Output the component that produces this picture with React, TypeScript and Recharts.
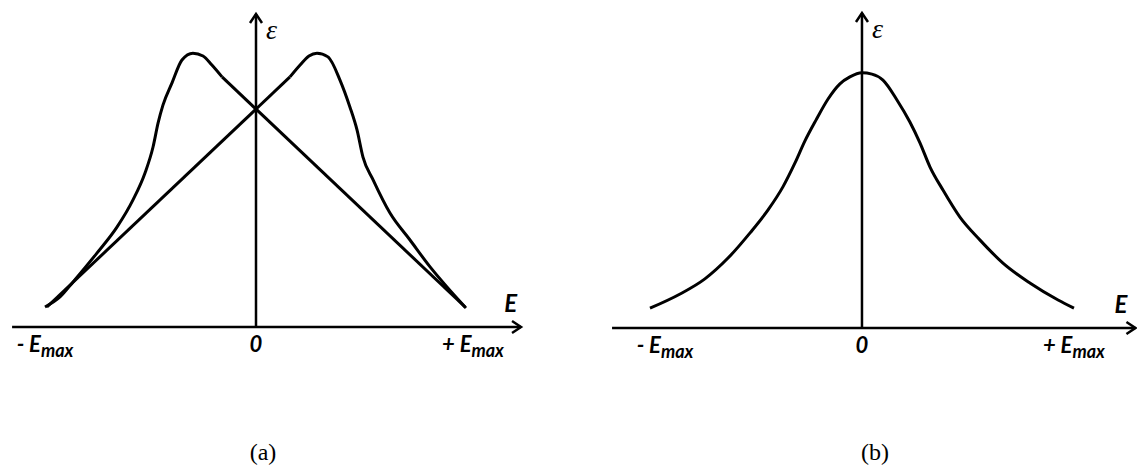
import React from 'react';
import { LineChart, Line, XAxis, YAxis, ReferenceLine } from 'recharts';

// ---- tick labels ----
const tickValues = [-1, 0, 1];
const tickMain = ['- E', '0', '+ E'];
const tickSub = ['max', '', 'max'];

// ---- panel (a): two curves, each = hump + straight line ----
const leftHumpE = [-1.0, -0.929, -0.867, -0.754, -0.659, -0.583, -0.526, -0.488, -0.464, -0.441, -0.398, -0.351, -0.299, -0.251, -0.209, -0.161];
const leftHumpEps = [0.064, 0.096, 0.144, 0.236, 0.319, 0.406, 0.492, 0.575, 0.652, 0.709, 0.78, 0.853, 0.875, 0.866, 0.837, 0.799];
const lineDownE = [-0.161, 0.991];
const lineDownEps = [0.799, 0.064];
const lineUpE = [-0.991, 0.161];
const lineUpEps = [0.064, 0.799];
const rightHumpE = [0.161, 0.209, 0.251, 0.289, 0.341, 0.398, 0.445, 0.479, 0.507, 0.555, 0.635, 0.73, 0.825, 0.905, 0.995];
const rightHumpEps = [0.799, 0.837, 0.866, 0.875, 0.863, 0.789, 0.703, 0.629, 0.543, 0.47, 0.364, 0.278, 0.192, 0.128, 0.061];

// ---- panel (b): single bell curve ----
const bellE = [-1.0, -0.858, -0.741, -0.632, -0.528, -0.443, -0.373, -0.316, -0.269, -0.217, -0.16, -0.104, -0.057, 0, 0.047, 0.099, 0.165, 0.226, 0.274, 0.321, 0.382, 0.462, 0.557, 0.665, 0.792, 0.925, 1.0];
const bellEps = [0.063, 0.108, 0.156, 0.222, 0.302, 0.375, 0.448, 0.524, 0.594, 0.66, 0.727, 0.775, 0.797, 0.81, 0.806, 0.787, 0.724, 0.654, 0.587, 0.511, 0.438, 0.352, 0.279, 0.206, 0.143, 0.089, 0.063];

// axis extents (data units)
const axisA = { xFrom: -1.156, xTo: 1.256 };
const axisB = { xFrom: -1.179, xTo: 1.29 };

const toPoints = (xs: number[], ys: number[]) => xs.map((x, i) => ({ x, y: ys[i] }));

const LABEL_FONT = 'Lato, "Open Sans", sans-serif';

const makeTick = (dx: number[]) => (props: any) => {
  const { x, y, payload } = props;
  const i = tickValues.indexOf(payload.value);
  if (i < 0) return null;
  return (
    <text
      x={x + dx[i]}
      y={y + 25}
      textAnchor="middle"
      fontFamily={LABEL_FONT}
      fontWeight="bold"
      fontStyle="italic"
      fontSize={22}
      fill="#000"
    >
      <tspan>{tickMain[i]}</tspan>
      {tickSub[i] ? (
        <tspan dy={5} fontSize={18}>
          {tickSub[i]}
        </tspan>
      ) : null}
    </text>
  );
};

const makeHArrow = (labelDx: number) => (props: any) => {
  const { x1, y1, x2, y2 } = props;
  return (
    <g>
      <line x1={x1} y1={y1} x2={x2} y2={y2} stroke="#000" strokeWidth={2.5} />
      <polyline
        points={`${x2 - 9},${y2 - 6} ${x2},${y2} ${x2 - 9},${y2 + 6}`}
        fill="none"
        stroke="#000"
        strokeWidth={2.5}
      />
      <text
        x={x2 - labelDx}
        y={y2 - 15}
        textAnchor="end"
        fontFamily={LABEL_FONT}
        fontWeight="bold"
        fontStyle="italic"
        fontSize={24}
        fill="#000"
      >
        E
      </text>
    </g>
  );
};

const VArrow = (props: any) => {
  const { x1, y1, x2, y2 } = props;
  const topY = Math.min(y1, y2);
  const botY = Math.max(y1, y2);
  return (
    <g>
      <line x1={x1} y1={botY} x2={x2} y2={topY} stroke="#000" strokeWidth={2.5} />
      <polyline
        points={`${x1 - 6},${topY + 9} ${x1},${topY} ${x1 + 6},${topY + 9}`}
        fill="none"
        stroke="#000"
        strokeWidth={2.5}
      />
      <text
        x={x1 + 10}
        y={topY + 25}
        fontFamily='"Liberation Serif", serif'
        fontStyle="italic"
        fontSize={28}
        fill="#000"
      >
        ε
      </text>
    </g>
  );
};

const curveStyle = { stroke: '#000', strokeWidth: 3 };

const PanelA = () => (
  <LineChart
    width={560}
    height={465}
    margin={{ top: 14, right: 29.7, bottom: 98, left: 2.8 }}
  >
    <XAxis
      dataKey="x"
      type="number"
      domain={[-1.2, 1.3]}
      ticks={tickValues}
      tick={makeTick([0, 0, 6])}
      axisLine={false}
      tickLine={false}
      tickSize={0}
      tickMargin={0}
      height={40}
      interval={0}
      allowDataOverflow
    />
    <YAxis type="number" domain={[0, 1]} hide allowDataOverflow />
    <ReferenceLine
      segment={[{ x: axisA.xFrom, y: 0 }, { x: axisA.xTo, y: 0 }]}
      ifOverflow="visible"
      shape={makeHArrow(4)}
    />
    <ReferenceLine
      segment={[{ x: 0, y: 0 }, { x: 0, y: 1 }]}
      ifOverflow="visible"
      shape={VArrow}
    />
    <Line data={toPoints(leftHumpE, leftHumpEps)} dataKey="y" type="monotone" {...curveStyle} dot={false} activeDot={false} isAnimationActive={false} />
    <Line data={toPoints(lineDownE, lineDownEps)} dataKey="y" type="linear" {...curveStyle} dot={false} activeDot={false} isAnimationActive={false} />
    <Line data={toPoints(lineUpE, lineUpEps)} dataKey="y" type="linear" {...curveStyle} dot={false} activeDot={false} isAnimationActive={false} />
    <Line data={toPoints(rightHumpE, rightHumpEps)} dataKey="y" type="monotone" {...curveStyle} dot={false} activeDot={false} isAnimationActive={false} />
  </LineChart>
);

const PanelB = () => (
  <LineChart
    width={557}
    height={465}
    margin={{ top: 13, right: 0.5, bottom: 97, left: 17 }}
  >
    <XAxis
      dataKey="x"
      type="number"
      domain={[-1.25, 1.295]}
      ticks={tickValues}
      tick={makeTick([15, 0, 0])}
      axisLine={false}
      tickLine={false}
      tickSize={0}
      tickMargin={0}
      height={40}
      interval={0}
      allowDataOverflow
    />
    <YAxis type="number" domain={[0, 1]} hide allowDataOverflow />
    <ReferenceLine
      segment={[{ x: axisB.xFrom, y: 0 }, { x: axisB.xTo, y: 0 }]}
      ifOverflow="visible"
      shape={makeHArrow(8)}
    />
    <ReferenceLine
      segment={[{ x: 0, y: 0 }, { x: 0, y: 1 }]}
      ifOverflow="visible"
      shape={VArrow}
    />
    <Line data={toPoints(bellE, bellEps)} dataKey="y" type="monotone" {...curveStyle} dot={false} activeDot={false} isAnimationActive={false} />
  </LineChart>
);

const captionStyle: React.CSSProperties = {
  position: 'absolute',
  top: 439,
  width: 60,
  textAlign: 'center',
  fontFamily: '"Liberation Serif", "Times New Roman", serif',
  fontSize: 24,
  lineHeight: '26px',
  color: '#000',
};

export default function App() {
  return (
    <div
      style={{
        position: 'absolute',
        left: 0,
        top: 0,
        width: 1137,
        height: 465,
        background: '#fff',
        overflow: 'hidden',
      }}
    >
      <div style={{ position: 'absolute', left: 0, top: 0 }}>
        <PanelA />
      </div>
      <div style={{ position: 'absolute', left: 580, top: 0 }}>
        <PanelB />
      </div>
      <div style={{ ...captionStyle, left: 263 - 30 }}>(a)</div>
      <div style={{ ...captionStyle, left: 875 - 30 }}>(b)</div>
    </div>
  );
}
